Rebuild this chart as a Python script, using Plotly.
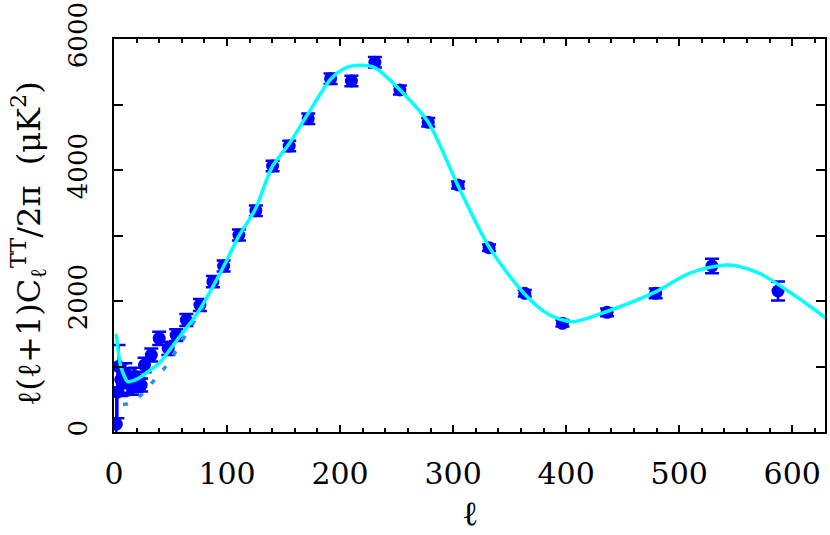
import plotly.graph_objects as go

# ---- model curve ----
model_l = [2, 4, 6, 9, 12, 18, 24, 30, 40, 50, 60, 70, 80, 90, 100, 110, 125, 140, 155, 172,
           192, 205, 218, 231, 253, 278, 304, 332, 363, 385, 406, 436, 479, 510, 543, 570,
           600, 630]
model_v = [1500, 1200, 1000, 860, 770, 790, 845, 920, 1050, 1270, 1500, 1720, 1990, 2300,
           2630, 2980, 3400, 4050, 4400, 4870, 5394, 5560, 5600, 5560, 5221, 4728, 3771,
           2820, 2110, 1790, 1684, 1840, 2140, 2430, 2550, 2430, 2110, 1736]

# ---- alternative (dotted) curve at low l ----
alt_l = [8, 12, 18, 25, 37, 48, 58, 68, 80]
alt_v = [420, 430, 480, 580, 820, 1049, 1328, 1608, 1950]

# ---- low-l individual multipoles ----
low_l = [2, 3, 4, 6, 8, 10, 12, 14, 16, 18, 20, 22]
low_v = [120, 610, 1000, 800, 760, 870, 750, 820, 700, 850, 730, 800]
low_e = [500, 400, 330, 250, 200, 180, 150, 150, 130, 130, 120, 120]

# ---- binned band powers ----
bin_l = [24, 27, 33, 40, 48, 55, 64, 76, 87.5, 97, 110.5, 125.5, 140.3, 155, 171.8,
         191.6, 210, 230.8, 252.9, 278, 304.4, 331.8, 363.4, 396.7, 436.2, 479.2, 529, 587.4]
bin_v = [717, 1023, 1175, 1430, 1277, 1480, 1710, 1939, 2295, 2534, 3008, 3379, 4061,
         4366, 4783, 5394, 5359, 5644, 5221, 4728, 3771, 2814, 2117, 1659, 1827, 2117,
         2534, 2153]
bin_e = [100, 110, 100, 100, 100, 90, 90, 90, 85, 85, 85, 80, 80, 80, 80, 80, 80, 80,
         70, 65, 55, 50, 50, 50, 60, 75, 112, 145]

x_ticks = [0, 100, 200, 300, 400, 500, 600]
y_ticks = [0, 1000, 2000, 3000, 4000, 5000, 6000]
y_text = ["0", "", "2000", "", "4000", "", "6000"]

BLUE = "#0000ff"
CYAN = "#00ffff"
FONT = "DejaVu Serif"

fig = go.Figure()

for lx, ly, le in [(low_l, low_v, low_e), (bin_l, bin_v, bin_e)]:
    fig.add_trace(go.Scatter(
        x=lx, y=ly, mode="markers",
        marker=dict(color=BLUE, size=13, line=dict(width=0)),
        error_y=dict(type="data", array=le, visible=True, color=BLUE,
                     thickness=2.5, width=7),
        showlegend=False, cliponaxis=True))

fig.add_trace(go.Scatter(
    x=alt_l, y=alt_v, mode="lines",
    line=dict(color="#2a8cf0", width=3.5, dash="5px,13px", shape="spline"),
    showlegend=False))

fig.add_trace(go.Scatter(
    x=model_l, y=model_v, mode="lines",
    line=dict(color=CYAN, width=3.5, shape="spline", smoothing=0.8),
    showlegend=False))

fig.update_layout(
    width=830, height=535,
    margin=dict(l=114, r=5, t=39, b=103, autoexpand=False),
    plot_bgcolor="white", paper_bgcolor="white",
    font=dict(family=FONT, size=30, color="black"),
    annotations=[
        dict(text="ℓ", xref="paper", yref="paper", x=0.5, y=-0.205,
             xanchor="center", yanchor="middle", showarrow=False,
             font=dict(family=FONT, size=34)),
        dict(text="ℓ(ℓ+1)C<sub>ℓ</sub><sup>TT</sup>/2π  (μK<sup>2</sup>)",
             xref="paper", yref="paper", x=-0.12, y=0.48, textangle=-90,
             xanchor="center", yanchor="middle", showarrow=False,
             font=dict(family=FONT, size=32)),
    ],
)

fig.update_xaxes(
    range=[0, 629], tickvals=x_ticks, ticks="inside", ticklen=7, tickwidth=2,
    tickcolor="black", showline=True, linewidth=2, linecolor="black", mirror="ticks",
    showgrid=False, zeroline=False, ticklabelstandoff=14, automargin=False,
    ticklabeloverflow="allow", tickfont=dict(size=30),
    minor=dict(dtick=20, ticks="inside", ticklen=4, tickwidth=1.5, tickcolor="black"),
)
fig.update_yaxes(
    range=[0, 6000], tickvals=y_ticks, ticktext=y_text, ticks="inside", ticklen=9,
    tickwidth=2, tickcolor="black", showline=True, linewidth=2, linecolor="black",
    mirror="ticks", showgrid=False, zeroline=False, tickangle=-90,
    ticklabelstandoff=15, automargin=False, ticklabeloverflow="allow",
    tickfont=dict(size=26),
)

fig.write_html(
    "out.html",
    config={"displayModeBar": False},
    post_script="document.body.style.margin='0';document.body.style.overflow='hidden';",
)
